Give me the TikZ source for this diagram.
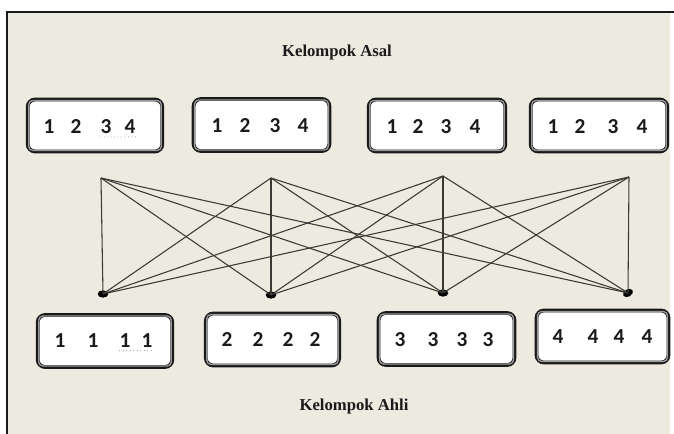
\documentclass[tikz,border=0pt]{standalone}
\usepackage{fontspec}
\setmainfont{Liberation Serif}
\newfontfamily\digitfont{Carlito}
\usetikzlibrary{shapes.geometric,calc}

\definecolor{paper}{HTML}{EDEAE0}
\definecolor{ink}{HTML}{1A1A1A}
\definecolor{wire}{HTML}{3A3A34}

\tikzset{
  grp/.style={draw=ink, line width=2.8pt, rounded corners=5.5pt, fill=white,
    inner sep=0pt, minimum height=39pt},
  bevel/.style={draw=black!40, line width=1pt, rounded corners=3pt},
  digit/.style={inner sep=0pt, text=ink, font=\digitfont\bfseries\fontsize{16}{19}\selectfont},
  title/.style={inner sep=0pt, text=ink, font=\bfseries\fontsize{12.5}{15}\selectfont},
  hub/.style={ellipse, fill=black, inner sep=0pt, minimum width=8pt, minimum height=5.5pt},
  link/.style={draw=wire, line width=0.8pt},
  squiggle/.style={draw=black!35, line width=0.6pt, dotted},
}

\begin{document}
\begin{tikzpicture}[x=0.75pt, y=-0.75pt]
  % page and frame
  \fill[white] (0,0) rectangle (674,434);
  \useasboundingbox (0,0) rectangle (674,434);
  \fill[paper] (7,12) rectangle (670,434);
  \draw[ink, line width=2pt] (7,434) -- (7,12) -- (674,12);

  \node[title] (asal) at (337,52) {Kelompok Asal};
  \node[title] (ahli) at (354,406) {Kelompok Ahli};

  % home groups
  \node[grp, minimum width=101pt] (h1) at (95,125.5) {};
  \node[grp, minimum width=102pt] (h2) at (261.5,125) {};
  \node[grp, minimum width=102.5pt] (h3) at (437,125.5) {};
  \node[grp, minimum width=102.5pt] (h4) at (599,125.5) {};

  % expert groups
  \node[grp, minimum width=101pt] (e1) at (105,341) {};
  \node[grp, minimum width=100pt] (e2) at (272.5,339.5) {};
  \node[grp, minimum width=102pt] (e3) at (446.5,339) {};
  \node[grp, minimum width=99pt] (e4) at (602.5,336.5) {};

  % inner bevel of every box
  \foreach \b in {h1,h2,h3,h4,e1,e2,e3,e4}{
    \draw[bevel] ([xshift=2.2pt,yshift=-2.2pt]\b.north west) rectangle ([xshift=-2.2pt,yshift=2.2pt]\b.south east);
  }

  % digits in the home groups
  \foreach \x/\d [count=\i] in {49/1,76/2,106/3,130/4}{\node[digit] (h1d\i) at (\x,127) {\d};}
  \foreach \x/\d [count=\i] in {217/1,245/2,275/3,303/4}{\node[digit] (h2d\i) at (\x,126) {\d};}
  \foreach \x/\d [count=\i] in {392/1,418/2,446/3,475/4}{\node[digit] (h3d\i) at (\x,127) {\d};}
  \foreach \x/\d [count=\i] in {553/1,580/2,613/3,642/4}{\node[digit] (h4d\i) at (\x,127) {\d};}

  % digits in the expert groups
  \foreach \x/\d [count=\i] in {60/1,93/1,125/1,147/1}{\node[digit] (e1d\i) at (\x,341) {\d};}
  \foreach \x/\d [count=\i] in {227/2,258/2,288/2,315/2}{\node[digit] (e2d\i) at (\x,340) {\d};}
  \foreach \x/\d [count=\i] in {400/3,433/3,462/3,488/3}{\node[digit] (e3d\i) at (\x,340) {\d};}
  \foreach \x/\d [count=\i] in {558/4,593/4,619/4,647/4}{\node[digit] (e4d\i) at (\x,337) {\d};}

  % spell-check marks under two digit pairs
  \draw[squiggle] ([yshift=-2pt]h1d3.south west) -- ([yshift=-2pt]h1d4.south east);
  \draw[squiggle] ([yshift=-2pt]e1d3.south west) -- ([yshift=-2pt]e1d4.south east);

  % fan-out points and meeting points
  \coordinate (t1) at (101,178);
  \coordinate (t2) at (271,178);
  \coordinate (t3) at (443,176);
  \coordinate (t4) at (629,177);
  \node[hub] (m1) at (103,294) {};
  \node[hub] (m2) at (271,295) {};
  \node[hub] (m3) at (443,293) {};
  \node[hub, rotate=30] (m4) at (628,293) {};

  % every home group sends one member to every expert group
  \foreach \t in {1,2,3,4}{
    \foreach \m in {1,2,3,4}{
      \draw[link] (t\t) -- (m\m.center);
    }
  }
\end{tikzpicture}
\end{document}
